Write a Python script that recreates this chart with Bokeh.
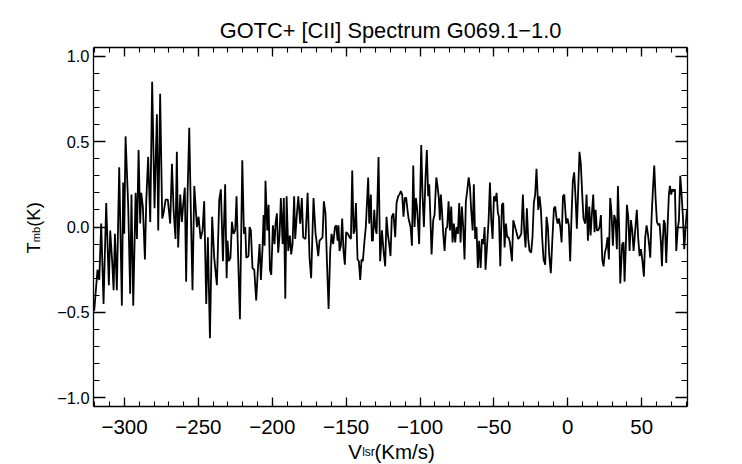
import math
from bokeh.plotting import figure
from bokeh.models import (Range1d, LinearAxis, SingleIntervalTicker,
                          CustomJSTickFormatter, Label)
from bokeh.embed import file_html
from bokeh.resources import INLINE

# ---------------- data ----------------
TITLE = "GOTC+ [CII] Spectrum G069.1\u22121.0"
X_LABEL = ["V", "lsr", "(Km/s)"]
Y_LABEL = ["T", "mb", "(K)"]

velocity = [
    -320.5, -318.3, -317.1, -315.8, -314.2, -312.4, -310.6, -309.7, -308.3, -307.4,
    -306.5, -305.2, -303.6, -301.8, -300.9, -300.2, -299.3, -297.5, -296.2, -295.3,
    -294.1, -292.5, -291.6, -290.5, -289.4, -288.7, -287.6, -286.2, -285.3, -284.0,
    -282.6, -281.3, -279.7, -278.1, -277.2, -275.9, -274.5, -273.6, -272.2, -270.7,
    -269.1, -267.9, -266.8, -265.5, -264.6, -263.7, -262.3, -261.2, -260.3, -259.2,
    -258.3, -257.4, -256.2, -255.1, -254.0, -252.8,
    -251.0, -249.9, -248.5, -247.2, -246.1, -244.7, -243.6, -242.2, -240.7, -239.3,
    -237.5, -235.9, -234.8, -233.4, -231.9, -230.9, -230.3, -229.4, -228.3, -227.3,
    -226.2, -225.1, -224.2, -223.3, -221.9, -220.3, -219.2, -218.3, -217.6, -216.1,
    -215.4, -214.5, -213.4, -212.2, -210.9, -209.7, -208.6, -207.7, -206.6, -205.9,
    -205.2, -204.6, -203.4, -202.5, -201.6, -200.7, -199.6, -198.5, -197.8, -196.9,
    -196.0, -195.1, -194.2, -193.0, -192.2, -191.2, -190.3, -189.2, -188.1, -187.2,
    -186.3, -185.2, -184.5, -183.4, -182.4, -181.1, -180.0, -179.1,
    -177.5, -176.1, -174.8, -173.7, -172.1, -170.7, -169.8, -168.9, -168.0, -166.9,
    -166.0, -165.1, -164.0, -163.1, -161.9, -160.8, -159.9, -158.8, -157.6, -156.7,
    -155.8, -155.2, -154.5, -153.6, -152.7, -151.8, -150.9, -150.0, -148.8, -147.7,
    -146.8, -145.9, -145.0, -144.3, -143.4, -142.3, -141.4, -140.5, -139.6, -138.7,
    -137.6, -136.7, -135.1, -134.4, -133.3, -132.6, -131.9, -131.0, -130.3, -129.4,
    -128.1, -127.0, -125.8, -124.7, -123.6, -122.7, -121.8, -120.9, -120.0, -119.1,
    -118.0, -116.8, -115.9, -114.8, -113.9, -113.0, -112.1, -111.2, -110.3, -109.4,
    -108.5, -107.8,
    -106.4, -105.5, -104.6, -103.7, -102.8, -101.9, -100.6, -99.2, -98.3, -97.4,
    -96.3, -95.4, -94.5, -93.8, -93.1, -92.2, -91.1, -90.2, -89.0, -88.2,
    -87.3, -86.6, -85.9, -85.2, -84.3, -83.4, -82.5, -81.6, -80.7, -79.8,
    -78.9, -78.0, -77.1, -76.2, -75.3, -74.4, -73.5, -72.6, -71.7, -70.8,
    -69.9, -69.0, -68.1, -67.1, -66.2, -65.4, -64.4, -63.6, -62.7, -61.8,
    -60.9, -60.0, -59.0, -58.1, -57.2, -56.3, -55.7, -54.8, -53.6, -52.7,
    -51.8, -50.9, -50.0, -49.1, -48.2, -47.3, -46.6, -45.7, -44.6, -43.7,
    -42.8, -41.9, -41.0, -40.1, -39.2, -37.8, -36.9, -36.0,
    -34.5, -33.6, -32.7, -31.5, -30.4, -29.5, -28.6, -27.7, -26.8, -25.9,
    -24.8, -23.9, -23.0, -22.1, -21.2, -20.0, -19.1, -18.2, -17.3, -16.4,
    -15.3, -14.4, -13.5, -12.6, -11.5, -10.6, -9.4, -8.5, -7.8, -6.9,
    -6.0, -5.1, -4.2, -3.3, -2.4, -1.7, -1.1, -0.2, 0.7, 1.6,
    2.5, 3.4, 4.3, 5.2, 6.1, 7.0, 7.9, 8.8, 9.7, 10.6,
    11.8, 12.7, 13.6, 14.5, 15.4, 16.3, 17.2, 18.1, 18.8, 19.7,
    20.6, 21.5, 22.4, 23.3, 24.2, 25.1, 26.0, 26.9, 27.8, 28.7,
    29.6, 30.5, 31.4, 32.3, 33.2, 33.9, 34.8, 35.5,
    36.8, 37.7, 38.4, 39.3, 40.0, 40.9, 41.8, 42.7, 43.6, 44.5,
    45.6, 46.7, 47.6, 48.6, 49.5, 50.4, 51.5, 52.4, 53.3, 54.2,
    55.1, 55.8, 56.7, 57.6, 58.5, 59.4, 60.3, 61.2, 62.1, 63.0,
    63.7, 64.3, 65.0, 65.7, 66.6, 67.5, 68.4, 69.1, 70.0, 70.7,
    71.6, 72.5, 73.4, 74.3, 75.2, 76.1, 77.0, 77.9, 78.8, 79.7,
    80.6, 81.3,
]

tmb = [
    -0.49, -0.25, -0.31, 0.02, -0.45, 0.14, -0.34, -0.02, -0.21, -0.37,
    -0.04, -0.37, 0.35, -0.46, 0.26, -0.04, 0.53, 0.12, -0.39, 0.19,
    -0.46, 0.20, -0.07, 0.45, 0.02, 0.20, 0.12, -0.19, 0.15, 0.41,
    0.03, 0.85, 0.11, 0.66, -0.02, 0.78, 0.05, 0.08, 0.16, 0.16,
    0.02, 0.37, 0.10, -0.07, 0.44, -0.12, 0.19, 0.03, 0.13, 0.23,
    -0.32, 0.17, 0.58, 0.08, -0.37, 0.24,
    0.00, 0.06, -0.07, -0.02, 0.15, -0.45, -0.06, -0.65, 0.06, -0.18,
    -0.34, 0.16, 0.22, -0.20, 0.25, -0.30, -0.08, -0.20, -0.18, 0.03,
    -0.04, -0.02, 0.18, -0.12, -0.54, 0.39, -0.04, 0.00, -0.18, -0.17,
    0.00, -0.02, -0.24, -0.25, -0.43, -0.24, -0.10, -0.31, -0.12, 0.07,
    -0.11, 0.27, -0.02, 0.13, -0.25, -0.28, 0.01, -0.10, 0.02, 0.08,
    -0.15, -0.05, 0.17, -0.10, 0.17, -0.42, 0.18, -0.14, -0.05, -0.16,
    -0.10, 0.18, -0.07, 0.07, 0.18, 0.02, 0.17, -0.06,
    -0.07, 0.20, -0.18, -0.30, 0.17, -0.04, -0.10, -0.17, -0.08, -0.07,
    -0.06, 0.15, 0.08, -0.18, -0.48, -0.14, -0.04, -0.10, 0.00, 0.01,
    -0.08, 0.01, -0.14, -0.11, 0.05, -0.14, -0.22, -0.03, -0.04, -0.06,
    -0.07, 0.33, -0.04, -0.02, 0.14, -0.19, -0.20, -0.31, -0.19, -0.20,
    -0.08, 0.00, 0.29, 0.02, 0.19, -0.08, -0.08, 0.10, 0.00, -0.04,
    0.41, -0.20, -0.02, -0.14, -0.23, 0.06, -0.04, -0.10, -0.17, 0.06,
    0.08, -0.06, 0.14, 0.18, 0.19, 0.21, 0.19, 0.06, 0.17, 0.17,
    0.10, 0.05,
    0.00, -0.11, 0.36, 0.00, 0.17, 0.10, -0.10, 0.48, 0.18, 0.00,
    0.29, 0.45, 0.18, 0.25, 0.08, -0.16, 0.04, 0.07, 0.29, 0.24,
    0.17, 0.04, 0.19, 0.10, -0.04, -0.14, -0.01, 0.00, 0.15, -0.02,
    0.12, -0.09, 0.02, -0.09, 0.00, -0.04, 0.14, -0.09, 0.12, 0.00,
    -0.19, 0.15, 0.21, 0.29, 0.23, 0.10, -0.02, 0.25, -0.07, 0.00,
    -0.24, -0.08, -0.24, -0.07, -0.10, 0.00, -0.25, -0.13, 0.04, 0.26,
    0.04, -0.07, 0.18, 0.15, 0.20, 0.08, 0.06, -0.23, 0.13, 0.14,
    -0.12, 0.02, -0.06, -0.06, -0.09, -0.20, 0.04, 0.01,
    -0.04, -0.07, -0.06, -0.04, 0.19, -0.02, -0.12, 0.11, -0.07, -0.14,
    -0.15, -0.06, 0.14, 0.19, 0.34, 0.10, 0.18, 0.10, -0.07, -0.19,
    -0.22, 0.06, 0.00, -0.16, -0.27, -0.10, 0.11, 0.12, 0.06, 0.02,
    0.05, 0.00, -0.09, 0.18, 0.19, 0.10, 0.02, 0.05, 0.01, -0.20,
    0.06, 0.27, 0.32, 0.18, -0.01, 0.21, 0.44, 0.37, 0.20, 0.05,
    0.02, 0.19, -0.08, 0.12, -0.05, 0.08, 0.19, -0.03, 0.10, -0.02,
    -0.02, 0.00, 0.07, -0.19, -0.23, -0.15, -0.12, -0.06, -0.19, 0.17,
    0.08, -0.11, 0.07, 0.04, -0.13, 0.24, -0.02, -0.33,
    -0.10, -0.09, -0.32, -0.10, 0.13, 0.06, -0.14, 0.04, -0.02, -0.14,
    -0.02, 0.10, -0.06, -0.17, -0.13, -0.19, -0.29, -0.06, 0.01, -0.04,
    -0.11, -0.18, 0.06, 0.22, 0.36, 0.17, 0.03, 0.01, 0.02, -0.09,
    -0.23, -0.08, 0.04, 0.02, -0.21, 0.00, 0.19, 0.24, 0.19, 0.22,
    0.21, 0.22, -0.14, -0.02, 0.04, 0.30, 0.19, 0.06, -0.13, 0.00,
    0.10, 0.06,
]

X_RANGE = (-321.0, 81.0)
Y_RANGE = (-1.05, 1.05)
X_TICK_STEP = 50
Y_TICK_STEP = 0.5

# ---------------- figure ----------------
FONT = "Liberation Sans"

p = figure(frame_width=594, frame_height=359,
           min_border_left=93, min_border_right=55,
           min_border_top=47, min_border_bottom=58,
           x_range=Range1d(*X_RANGE), y_range=Range1d(*Y_RANGE),
           output_backend="svg", toolbar_location=None)
p.background_fill_color = "white"
p.border_fill_color = "white"
p.outline_line_color = None
p.xgrid.visible = False
p.ygrid.visible = False

p.line(velocity, tmb, line_color="black", line_width=1.8)

x_fmt = CustomJSTickFormatter(code="return (tick < 0 ? '\u2212' : '') + Math.abs(tick).toFixed(0);")
y_fmt = CustomJSTickFormatter(code="return (tick < 0 ? '\u2212' : '') + Math.abs(tick).toFixed(1);")
blank = CustomJSTickFormatter(code="return '';")


def style(ax, tin, mtin):
    ax.major_tick_in = tin
    ax.major_tick_out = 0
    ax.minor_tick_in = mtin
    ax.minor_tick_out = 0
    ax.axis_line_color = "black"
    ax.axis_line_width = 1.3
    ax.major_tick_line_color = "black"
    ax.major_tick_line_width = 1.3
    ax.minor_tick_line_color = "black"
    ax.minor_tick_line_width = 1.1


xb = p.xaxis[0]
xb.ticker = SingleIntervalTicker(interval=X_TICK_STEP, num_minor_ticks=5)
xb.formatter = x_fmt
xb.major_label_text_font = FONT
xb.major_label_text_font_size = "20.5px"
xb.major_label_text_color = "black"
xb.major_label_standoff = 13
style(xb, 9, 5)

yl = p.yaxis[0]
yl.ticker = SingleIntervalTicker(interval=Y_TICK_STEP, num_minor_ticks=5)
yl.formatter = y_fmt
yl.major_label_text_font = FONT
yl.major_label_text_font_size = "16.4px"
yl.major_label_text_color = "black"
yl.major_label_standoff = 4
style(yl, 12, 6)

xt = LinearAxis(ticker=SingleIntervalTicker(interval=X_TICK_STEP, num_minor_ticks=5),
                formatter=blank, major_label_standoff=0)
style(xt, 9, 5)
p.add_layout(xt, "above")

yr = LinearAxis(ticker=SingleIntervalTicker(interval=Y_TICK_STEP, num_minor_ticks=5),
                formatter=blank, major_label_standoff=0)
style(yr, 12, 6)
p.add_layout(yr, "right")


# ---------------- texts: labels in side panels (not clipped), data units ----------------
def lab(text, x, y, size, side, angle=0.0, align="left"):
    p.add_layout(Label(x=x, y=y, x_units="data", y_units="data", text=text,
                       text_font=FONT, text_font_size=size, text_color="black",
                       text_align=align, text_baseline="alphabetic", angle=angle),
                 side)


lab(TITLE, -120.0, 1.148, "21.8px", "above", align="center")

# x axis label V_lsr(Km/s)
lab(X_LABEL[0], -148.6, -1.311, "20.5px", "below")
lab(X_LABEL[1], -139.15, -1.318, "12px", "below")
lab(X_LABEL[2], -130.8, -1.311, "20.5px", "below")

# y axis label T_mb(K), rotated
lab(Y_LABEL[0], -361.3, -0.155, "18.5px", "left", angle=math.pi / 2)
lab(Y_LABEL[1], -359.6, -0.089, "11px", "left", angle=math.pi / 2)
lab(Y_LABEL[2], -361.3, 0.001, "18.5px", "left", angle=math.pi / 2)

open("out.html", "w").write(file_html(p, INLINE))
